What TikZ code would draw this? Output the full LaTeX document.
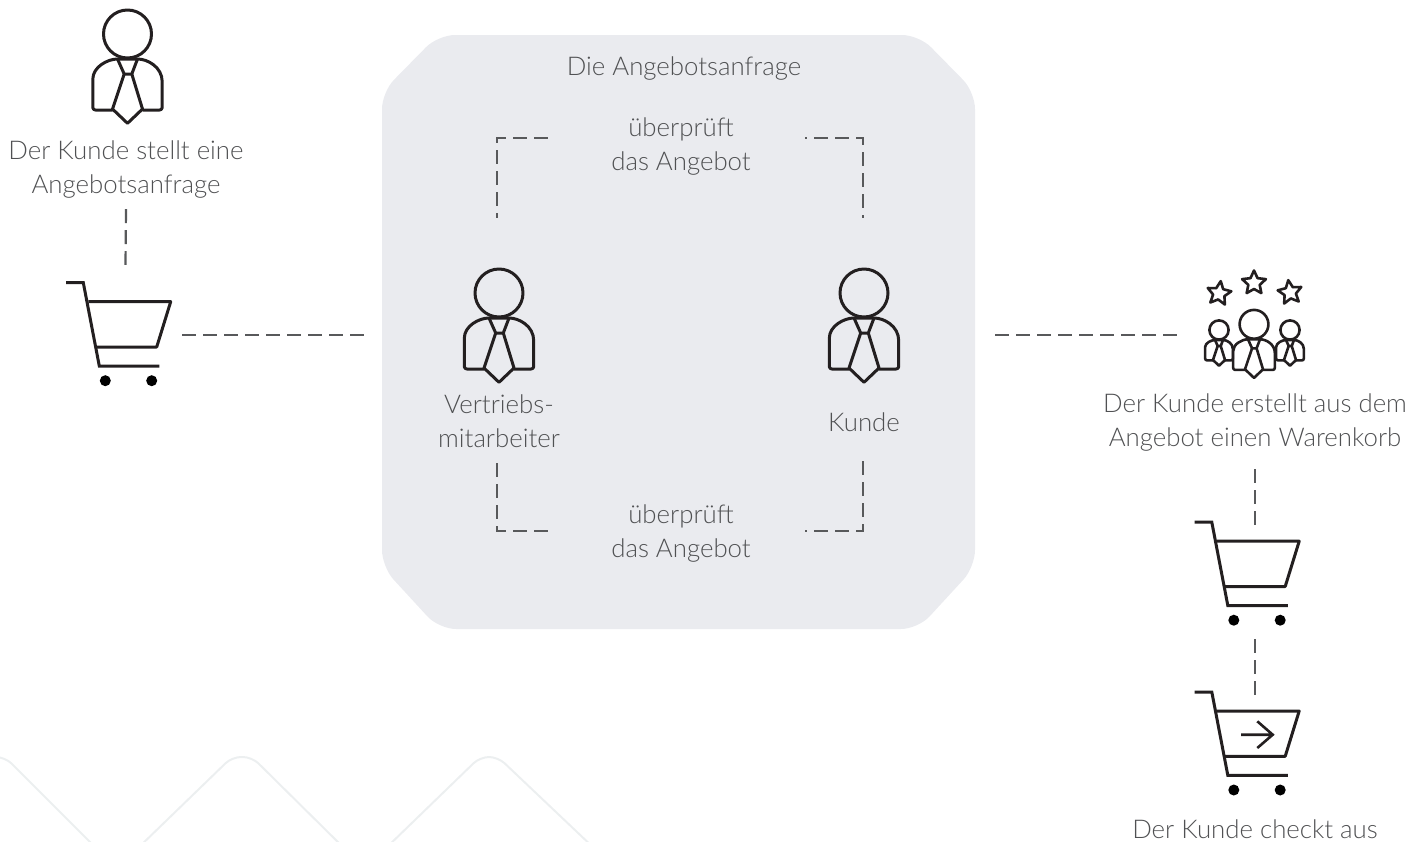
\documentclass[tikz,border=0pt]{standalone}
\usepackage{fontspec}
\setmainfont{Lato}[UprightFont=* Light]
\definecolor{inkgrey}{HTML}{58595B}
\definecolor{textgrey}{HTML}{505153}
\definecolor{iconink}{HTML}{231F20}
\definecolor{panelgrey}{HTML}{EAEBEF}
\definecolor{wmark}{HTML}{ECEFF0}
\tikzset{
  x=1pt,y=-1pt,
  label text/.style={text=textgrey,font=\fontsize{25.8}{34}\selectfont,align=center,inner sep=0pt},
  anchorbox/.style={inner sep=0pt,minimum width=#1},
  dashline/.style={draw=inkgrey,line width=2.2pt,dash pattern=on 14pt off 7pt},
  icon/.style={draw=iconink,line width=3pt,line join=round},
  personicon/.pic={
    \draw[icon,rounded corners=2.5pt] (-15,76) -- (-34.7,76) -- (-34.7,47.7)
      [sharp corners] .. controls (-34.7,33) and (-20,25) .. (-10,25) -- (10,25)
      .. controls (20,25) and (34.7,33) .. (34.7,47.7)
      [rounded corners=2.5pt] -- (34.7,76) -- (15,76);
    \draw[icon] (0,0) circle (24);
    \draw[icon] (-10,25) -- (-3.3,40) -- (4.3,40) -- (10,25);
    \draw[icon] (-3.3,40) -- (-15,75) -- (0,89.3) -- (15,75) -- (4.3,40);
  },
  smallperson/.pic={
    \draw[icon,line width=2.6pt,rounded corners=2pt] (-15,76) -- (-34.7,76) -- (-34.7,47.7)
      [sharp corners] .. controls (-34.7,33) and (-20,25) .. (-10,25) -- (10,25)
      .. controls (20,25) and (34.7,33) .. (34.7,47.7)
      [rounded corners=2pt] -- (34.7,76) -- (15,76);
    \draw[icon,line width=2.6pt] (0,0) circle (24);
    \draw[icon,line width=2.6pt] (-10,25) -- (-3.3,40) -- (4.3,40) -- (10,25);
    \draw[icon,line width=2.6pt] (-3.3,40) -- (-15,75) -- (0,89.3) -- (15,75) -- (4.3,40);
  },
  staricon/.pic={
    \draw[icon,line width=2.6pt] (90:-12.5) -- (126:-6) -- (162:-12.5) -- (198:-6) -- (234:-12.5)
      -- (270:-6) -- (306:-12.5) -- (342:-6) -- (18:-12.5) -- (54:-6) -- cycle;
  },
  carticon/.pic={
    \draw[icon,line join=miter] (66,282.7) -- (83.3,282.7) -- (99.3,366) -- (159.3,366);
    \draw[icon] (88.3,301.7) -- (170.7,301.7) -- (156.7,347) -- (96.7,347);
    \fill[black] (105.3,380.7) circle (5.5) (151.7,380.7) circle (5.5);
  }
}
\begin{document}
\begin{tikzpicture}
\useasboundingbox (0,0) rectangle (1424,841);
\clip (0,0) rectangle (1424,841);
% watermark lines
\draw[wmark,line width=2pt,rounded corners=9pt] (-12,757) -- (5,757) -- (98,850);
\draw[wmark,line width=2pt,rounded corners=9pt] (136,850) -- (232,757) -- (252,757) -- (346,850);
\draw[wmark,line width=2pt,rounded corners=9pt] (384,850) -- (480,757) -- (498,757) -- (596,850);
% panel
\fill[panelgrey,rounded corners=17pt] (382,92) -- (438,35) -- (919,35) -- (975,92) -- (975,567) -- (918,629) -- (439,629) -- (382,567) -- cycle;
\node[anchorbox=593pt,minimum height=588pt] (panel) at (678.5,335) {};
% anchor boxes for icons
\node[anchorbox=113pt,minimum height=140pt] (cartA) at (125.5,335) {};
\node[anchorbox=100pt,minimum height=242pt] (pV) at (497,339) {};
\node[anchorbox=100pt,minimum height=237pt] (pK) at (863,336.5) {};
\node[anchorbox=152pt,minimum height=100pt] (group) at (1254,335) {};
\node[anchorbox=130pt,minimum height=114pt] (cartB) at (1255,582) {};
\node[anchorbox=130pt,minimum height=114pt] (cartC) at (1255,752) {};
% icons
\pic at (127.5,34) {personicon};
\pic at (499,293) {personicon};
\pic at (864,293) {personicon};
\pic at (0,0) {carticon};
\pic at (1128.5,239.5) {carticon};
\pic at (1128.5,409.3) {carticon};
\pic[rotate=-8] at (1219,293.5) {staricon};
\pic at (1254,283) {staricon};
\pic[rotate=8] at (1290,292.5) {staricon};
\pic[scale=.4] at (1219,330) {smallperson};
\pic[scale=.4] at (1290,330) {smallperson};
\pic[scale=.6] at (1254,324.3) {smallperson};
\draw[icon,line width=2.6pt,line join=miter] (1241,734.7) -- (1272.7,734.7) (1257.3,721.3) -- (1272.7,734.7) -- (1257.3,748);
% texts
\node[label text,minimum height=78pt] (tA) at (126,170) {Der Kunde stellt eine\\Angebotsanfrage};
\node[label text] (title) at (684,69) {Die Angebotsanfrage};
\node[label text,minimum width=266pt] (checkA) at (681,147) {überprüft\\das Angebot};
\node[label text,minimum width=266pt] (checkB) at (681,533) {überprüft\\das Angebot};
\node[label text] (tV) at (499,421) {Vertriebs-\\mitarbeiter};
\node[label text] (tK) at (864,422) {Kunde};
\node[label text,minimum height=92pt] (tB) at (1255,423) {Der Kunde erstellt aus dem\\Angebot einen Warenkorb};
\node[label text] (tC) at (1255,829) {Der Kunde checkt aus};
% connectors
\draw[dashline] (tA.south) -- (cartA.north);
\draw[dashline,shorten >=17pt] (cartA.east) -- (panel.west);
\draw[dashline,shorten <=20pt] (panel.east) -- (group.west);
\draw[dashline] (tB.south) -- (cartB.north);
\draw[dashline] (cartB.south) -- (cartC.north);
\draw[dashline] ([yshift=9pt]checkA.west) -| (pV.north);
\draw[dashline,dash phase=12pt] ([xshift=-9pt,yshift=9pt]checkA.east) -| (pK.north);
\draw[dashline] ([yshift=2pt]checkB.west) -| (pV.south);
\draw[dashline,dash phase=12pt] ([xshift=-9pt,yshift=2pt]checkB.east) -| (pK.south);
\end{tikzpicture}
\end{document}
